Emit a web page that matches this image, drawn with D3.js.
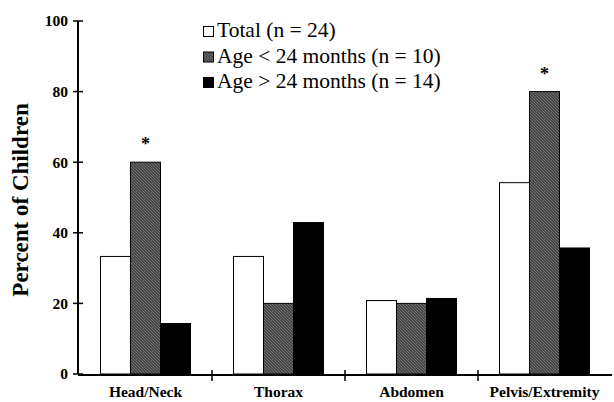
<!DOCTYPE html>
<html>
<head>
<meta charset="utf-8">
<script src="https://cdn.jsdelivr.net/npm/d3@7"></script>
<style>
  body { margin: 0; background: #fff; }
  svg { font-family: "Liberation Serif", "Times New Roman", serif; }
</style>
</head>
<body>
<svg width="614" height="402"></svg>
<script>
const svg = d3.select("svg");

// data
const categories = ["Head/Neck", "Thorax", "Abdomen", "Pelvis/Extremity"];
const seriesNames = ["Total (n = 24)", "Age < 24 months (n = 10)", "Age > 24 months (n = 14)"];
const totalVals = [33.3, 33.3, 20.8, 54.2];
const youngVals = [60, 20, 20, 80];
const oldVals = [14.3, 42.9, 21.4, 35.7];
const starred = ["Head/Neck", "Pelvis/Extremity"];
const yTicks = [0, 20, 40, 60, 80, 100];

const series = [totalVals, youngVals, oldVals];
const fills = ["#fff", "url(#hatch)", "#000"];

const plotL = 78, plotR = 612, plotT = 21, plotB = 374;

// hatch pattern for the < 24 month bars
const defs = svg.append("defs");
const pat = defs.append("pattern")
    .attr("id", "hatch")
    .attr("patternUnits", "userSpaceOnUse")
    .attr("width", 3).attr("height", 3);
pat.append("rect").attr("width", 3).attr("height", 3).attr("fill", "#9a9a9a");
pat.append("path")
    .attr("d", "M-1,-1 L4,4 M-1,2 L1,4 M2,-1 L4,1")
    .attr("stroke", "#111").attr("stroke-width", 1.1);

const x = d3.scaleBand().domain(categories).range([plotL + 1, plotR - 1]);
const xs = d3.scaleBand().domain(d3.range(3)).range([0, 90]);
const y = d3.scaleLinear().domain([0, 100]).range([plotB, plotT]);

// bars
const groups = svg.selectAll(".grp")
    .data(categories)
    .enter().append("g")
    .attr("transform", d => `translate(${x(d) + (x.bandwidth() - 90) / 2},0)`);

groups.selectAll("rect")
    .data((c, i) => series.map((s, k) => ({ k, v: s[i] })))
    .enter().append("rect")
    .attr("x", d => xs(d.k))
    .attr("width", xs.bandwidth())
    .attr("y", d => y(d.v))
    .attr("height", d => plotB - y(d.v))
    .attr("fill", d => fills[d.k])
    .attr("stroke", "#000")
    .attr("stroke-width", 1);

// asterisks
groups.filter(d => starred.includes(d))
    .append("text")
    .attr("x", xs(1) + xs.bandwidth() / 2)
    .attr("y", d => y(youngVals[categories.indexOf(d)]) - 12)
    .attr("text-anchor", "middle")
    .attr("font-size", 18)
    .attr("font-weight", "bold")
    .text("*");

// y axis (ticks cross the line)
const yAxis = svg.append("g").attr("transform", `translate(${plotL},0)`);
yAxis.append("line")
    .attr("y1", plotT).attr("y2", plotB)
    .attr("stroke", "#000").attr("stroke-width", 2);
const yt = yAxis.selectAll(".tick")
    .data(yTicks)
    .enter().append("g")
    .attr("transform", d => `translate(0,${y(d)})`);
yt.append("line")
    .attr("x1", -5).attr("x2", 5)
    .attr("stroke", "#000").attr("stroke-width", 1.5);
yt.append("text")
    .attr("x", -10).attr("dy", "0.35em")
    .attr("text-anchor", "end")
    .attr("font-size", 15.5).attr("font-weight", "bold")
    .text(d => d);

// x axis
const xAxis = svg.append("g")
    .attr("transform", `translate(0,${plotB + 1})`);
xAxis.append("line")
    .attr("x1", plotL).attr("x2", plotR)
    .attr("stroke", "#000").attr("stroke-width", 2);
xAxis.selectAll(".sep")
    .data(categories.slice(1))
    .enter().append("line")
    .attr("x1", d => x(d)).attr("x2", d => x(d))
    .attr("y1", -5).attr("y2", 6)
    .attr("stroke", "#000").attr("stroke-width", 1.5);
xAxis.selectAll(".lab")
    .data(categories)
    .enter().append("text")
    .attr("x", d => x(d) + x.bandwidth() / 2)
    .attr("y", 22)
    .attr("text-anchor", "middle")
    .attr("font-size", 15.5).attr("font-weight", "bold")
    .text(d => d);

// y title
svg.append("text")
    .attr("transform", `translate(28,200) rotate(-90)`)
    .attr("text-anchor", "middle")
    .attr("font-size", 23).attr("font-weight", "bold")
    .text("Percent of Children");

// legend
const leg = svg.append("g").attr("transform", "translate(203,37)");
const row = leg.selectAll("g")
    .data(seriesNames)
    .enter().append("g")
    .attr("transform", (d, i) => `translate(0,${i * 25.5})`);
row.append("rect")
    .attr("x", 0.5).attr("y", -10.5)
    .attr("width", 10).attr("height", 10)
    .attr("fill", (d, i) => fills[i])
    .attr("stroke", "#000");
row.append("text")
    .attr("x", 14).attr("y", 0)
    .attr("font-size", 21.5)
    .text(d => d);
</script>
</body>
</html>
